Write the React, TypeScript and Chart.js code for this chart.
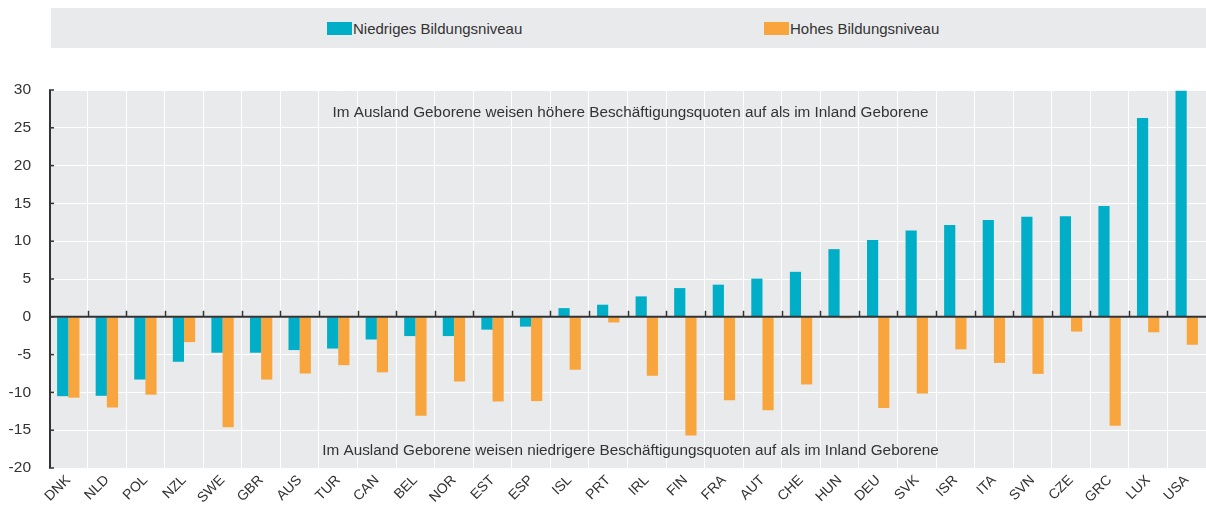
import React, { useEffect, useRef } from "react";
import { Chart, registerables } from "chart.js";

Chart.register(...registerables);

const categories = ["DNK","NLD","POL","NZL","SWE","GBR","AUS","TUR","CAN","BEL","NOR","EST","ESP","ISL","PRT","IRL","FIN","FRA","AUT","CHE","HUN","DEU","SVK","ISR","ITA","SVN","CZE","GRC","LUX","USA"];
const lowEducation = [-10.5,-10.45,-8.3,-5.95,-4.75,-4.75,-4.4,-4.2,-3.0,-2.55,-2.55,-1.7,-1.3,1.15,1.6,2.7,3.8,4.25,5.05,5.95,8.95,10.15,11.4,12.15,12.8,13.25,13.3,14.65,26.3,29.9];
const highEducation = [-10.7,-12.0,-10.3,-3.35,-14.6,-8.3,-7.5,-6.4,-7.35,-13.1,-8.55,-11.2,-11.15,-7.0,-0.75,-7.8,-15.7,-11.05,-12.35,-8.95,-0.2,-12.05,-10.15,-4.3,-6.1,-7.55,-1.95,-14.4,-2.05,-3.7];
const seriesNames = ["Niedriges Bildungsniveau", "Hohes Bildungsniveau"];
const seriesColors = ["#00aec7", "#f9a53e"];
const yMin = -20;
const yMax = 30;
const yStep = 5;
const noteTop = "Im Ausland Geborene weisen höhere Beschäftigungsquoten auf als im Inland Geborene";
const noteBottom = "Im Ausland Geborene weisen niedrigere Beschäftigungsquoten auf als im Inland Geborene";

const FONT = "'Liberation Sans', Arial, Helvetica, sans-serif";
const DARK = "#333333";
const PANEL = "#e9eaec";

const decorPlugin = {
  id: "decor",
  beforeDraw(chart: any) {
    const { ctx, chartArea: a } = chart;
    ctx.save();
    ctx.fillStyle = PANEL;
    ctx.fillRect(a.left, a.top, a.right - a.left, a.bottom - a.top);
    ctx.restore();
  },
  afterDatasetsDraw(chart: any) {
    const { ctx, chartArea: a, scales } = chart;
    const y = scales.y;
    const y0 = y.getPixelForValue(0);
    ctx.save();
    ctx.strokeStyle = DARK;
    ctx.lineWidth = 2;
    ctx.beginPath();
    ctx.moveTo(a.left + 1, a.top);
    ctx.lineTo(a.left + 1, a.bottom);
    ctx.stroke();
    ctx.beginPath();
    ctx.moveTo(a.left, y0);
    ctx.lineTo(a.right, y0);
    ctx.stroke();
    ctx.lineWidth = 1.5;
    for (let v = yMin; v <= yMax; v += yStep) {
      const py = y.getPixelForValue(v);
      ctx.beginPath();
      ctx.moveTo(a.left, py);
      ctx.lineTo(a.left + 5, py);
      ctx.stroke();
    }
    const n = categories.length;
    const w = (a.right - a.left) / n;
    for (let i = 1; i < n; i++) {
      const px = Math.round(a.left + i * w) + 0.5;
      ctx.beginPath();
      ctx.moveTo(px, y0);
      ctx.lineTo(px, y0 - 6);
      ctx.stroke();
    }
    ctx.fillStyle = DARK;
    ctx.font = `15.3px ${FONT}`;
    ctx.textAlign = "center";
    ctx.textBaseline = "middle";
    const cx = (a.left + a.right) / 2 + 3;
    ctx.fillText(noteTop, cx, y.getPixelForValue(27));
    ctx.fillText(noteBottom, cx, y.getPixelForValue(-17.7));
    ctx.restore();
  },
};

export default function App() {
  const ref = useRef<HTMLCanvasElement | null>(null);
  useEffect(() => {
    if (!ref.current) return;
    const chart = new Chart(ref.current, {
      type: "bar",
      data: {
        labels: categories,
        datasets: [
          { label: seriesNames[0], data: lowEducation, backgroundColor: seriesColors[0], categoryPercentage: 0.58, barPercentage: 1 },
          { label: seriesNames[1], data: highEducation, backgroundColor: seriesColors[1], categoryPercentage: 0.58, barPercentage: 1 },
        ],
      },
      options: {
        responsive: false,
        animation: false,
        layout: { padding: { top: 90, left: 0, right: 0, bottom: 0 } },
        plugins: { legend: { display: false }, tooltip: { enabled: false } },
        scales: {
          x: {
            grid: { color: "#ffffff", lineWidth: 1, drawTicks: false, offset: true },
            border: { display: false },
            ticks: { color: DARK, font: { family: FONT, size: 14 }, minRotation: 45, maxRotation: 45, padding: 4, autoSkip: false },
            afterFit: (s: any) => { s.height = 39; },
          },
          y: {
            min: yMin,
            max: yMax,
            grid: { color: "#ffffff", lineWidth: 1, drawTicks: false },
            border: { display: false },
            ticks: { stepSize: yStep, color: DARK, font: { family: FONT, size: 15.5 }, padding: 18 },
            afterFit: (s: any) => { s.width = 49; },
          },
        },
      },
      plugins: [decorPlugin],
    });
    return () => chart.destroy();
  }, []);

  return (
    <div style={{ position: "fixed", left: 0, top: 0, width: 1206, height: 507, background: "#fff", fontFamily: FONT }}>
      <div style={{ position: "absolute", left: 51, top: 8, width: 1155, height: 40, background: PANEL }} />
      <div style={{ position: "absolute", left: 327, top: 22, width: 25, height: 13, background: seriesColors[0] }} />
      <div style={{ position: "absolute", left: 353, top: 19, fontSize: 15, lineHeight: "20px", color: DARK, whiteSpace: "nowrap" }}>{seriesNames[0]}</div>
      <div style={{ position: "absolute", left: 764, top: 22, width: 25, height: 13, background: seriesColors[1] }} />
      <div style={{ position: "absolute", left: 790, top: 19, fontSize: 15, lineHeight: "20px", color: DARK, whiteSpace: "nowrap" }}>{seriesNames[1]}</div>
      <canvas ref={ref} width={1206} height={507} style={{ position: "absolute", left: 0, top: 0, width: 1206, height: 507 }} />
    </div>
  );
}
